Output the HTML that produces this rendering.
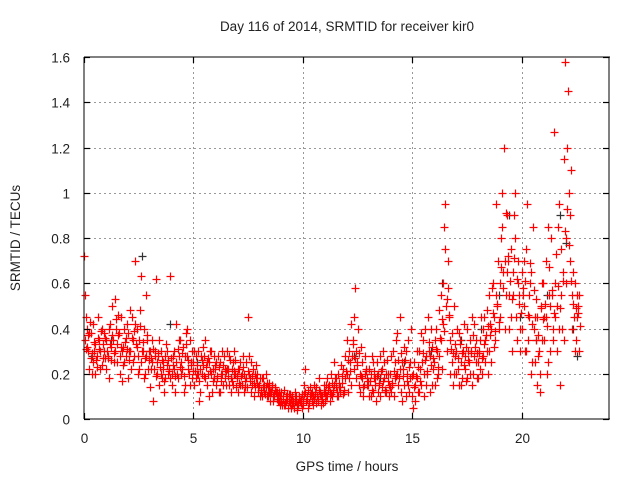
<!DOCTYPE html>
<html><head><meta charset="utf-8"><style>
body{margin:0;background:#fff}
svg{display:block;font-family:"Liberation Sans",sans-serif}
</style></head><body>
<svg id="chart" width="640" height="480" viewBox="0 0 640 480">
<rect width="640" height="480" fill="#fff"/>
<text x="347" y="31" font-size="13.5" text-anchor="middle" fill="#222">Day 116 of 2014, SRMTID for receiver kir0</text>
<text x="20" y="238" font-size="13.5" text-anchor="middle" fill="#222" transform="rotate(-90 20 238)">SRMTID / TECUs</text>
<text x="347" y="471" font-size="13.5" text-anchor="middle" fill="#222">GPS time / hours</text>
<g id="grid"></g>
<g id="blk"></g>
<g id="red"></g>
<g stroke="#000" stroke-width="1.2" shape-rendering="crispEdges">
<line x1="84" y1="57" x2="610" y2="57"/>
<line x1="84" y1="419" x2="610" y2="419"/>
<line x1="84" y1="57" x2="84" y2="419"/>
<line x1="609" y1="57" x2="609" y2="419"/>
</g>
<g id="ticks"></g>
</svg>
<script>
const xTicks=[0,5,10,15,20];
const yTicks=[0,0.2,0.4,0.6,0.8,1,1.2,1.4,1.6];
const yTickLabels=["0","0.2","0.4","0.6","0.8","1","1.2","1.4","1.6"];
const times=[0,0.1,0.2,0.3,0.4,0.5,0.6,0.7,0.8,0.9,1,1.1,1.2,1.3,1.4,1.5,1.6,1.7,1.8,1.9,2,2.1,2.2,2.3,2.4,2.5,2.6,2.7,2.8,2.9,3,3.1,3.2,3.3,3.4,3.5,3.6,3.7,3.8,3.9,4,4.1,4.2,4.3,4.4,4.5,4.6,4.7,4.8,4.9,5,5.1,5.2,5.3,5.4,5.5,5.6,5.7,5.8,5.9,6,6.1,6.2,6.3,6.4,6.5,6.6,6.7,6.8,6.9,7,7.1,7.2,7.3,7.4,7.5,7.6,7.7,7.8,7.9,8,8.1,8.2,8.3,8.4,8.5,8.6,8.7,8.8,8.9,9,9.1,9.2,9.3,9.4,9.5,9.6,9.7,9.8,9.9,10,10.1,10.2,10.3,10.4,10.5,10.6,10.7,10.8,10.9,11,11.1,11.2,11.3,11.4,11.5,11.6,11.7,11.8,11.9,12,12.1,12.2,12.3,12.4,12.5,12.6,12.7,12.8,12.9,13,13.1,13.2,13.3,13.4,13.5,13.6,13.7,13.8,13.9,14,14.1,14.2,14.3,14.4,14.5,14.6,14.7,14.8,14.9,15,15.1,15.2,15.3,15.4,15.5,15.6,15.7,15.8,15.9,16,16.1,16.2,16.3,16.4,16.5,16.6,16.7,16.8,16.9,17,17.1,17.2,17.3,17.4,17.5,17.6,17.7,17.8,17.9,18,18.1,18.2,18.3,18.4,18.5,18.6,18.7,18.8,18.9,19,19.1,19.2,19.3,19.4,19.5,19.6,19.7,19.8,19.9,20,20.1,20.2,20.3,20.4,20.5,20.6,20.7,20.8,20.9,21,21.1,21.2,21.3,21.4,21.5,21.6,21.7,21.8,21.9,22,22.1,22.2,22.3,22.4,22.5,22.6];
const valuesA=[.72,.45,.30,.38,.25,.33,.28,.35,.40,.30, .35,.28,.42,.50,.30,.25,.38,.45,.32,.28, .38,.30,.45,.28,.40,.35,.25,.30,.20,.35, .30,.25,.22,.62,.28,.20,.25,.18,.30,.22, .20,.30,.25,.18,.35,.22,.28,.40,.20,.25, .25,.18,.30,.22,.20,.28,.15,.25,.30,.22, .22,.18,.25,.20,.28,.15,.22,.18,.25,.20, .18,.22,.15,.20,.25,.45,.18,.15,.20,.16, .15,.12,.18,.14,.10,.12,.15,.10,.12,.08, .08,.10,.06,.09,.07,.10,.05,.08,.06,.09, .08,.22,.10,.07,.12,.09,.14,.08,.12,.10, .12,.10,.15,.20,.12,.18,.10,.14,.16,.12, .20,.30,.15,.35,.58,.25,.20,.18,.15,.22, .15,.20,.12,.18,.25,.15,.22,.18,.12,.20, .20,.15,.25,.38,.18,.12,.22,.30,.15,.25, .10,.25,.18,.30,.15,.35,.40,.20,.28,.15, .25,.40,.20,.35,.60,.95,.30,.45,.25,.20, .30,.22,.35,.18,.28,.40,.25,.30,.20,.35, .25,.35,.20,.45,.30,.55,.40,.60,.35,.50, .60,.85,1.2,.55,.70,.45,.65,.80,.35,.55, .65,.50,.75,.35,.60,.25,.45,.15,.30,.50, .60,.45,.85,.30,.55,1.27,.50,.40,.75,.65, 1.58,1.2,.90,.55,.45,.35,.50];
const valuesB=[.55,.32,.22,.27,.42,.20,.36,.30,.24,.38, .22,.40,.26,.35,.53,.33,.20,.30,.40,.36, .18,.48,.25,.70,.32,.22,.63,.40,.28,.22, .14,.35,.28,.20,.15,.30,.22,.28,.20,.63, .15,.22,.42,.28,.20,.32,.15,.28,.35,.18, .15,.28,.20,.12,.32,.18,.25,.10,.20,.28, .15,.28,.12,.30,.18,.22,.28,.12,.15,.26, .12,.25,.20,.12,.18,.28,.12,.22,.14,.20, .10,.18,.12,.20,.14,.08,.10,.13,.09,.12, .12,.06,.10,.05,.11,.06,.09,.04,.10,.07, .06,.12,.05,.14,.08,.15,.07,.18,.10,.07, .08,.18,.12,.10,.25,.14,.20,.12,.22,.18, .35,.18,.42,.22,.30,.40,.12,.25,.20,.15, .22,.10,.25,.15,.12,.28,.14,.25,.20,.15, .12,.30,.18,.20,.45,.25,.15,.10,.35,.18, .05,.15,.30,.12,.38,.20,.15,.45,.12,.32, .15,.30,.48,.55,.42,.75,.58,.20,.38,.50, .20,.38,.15,.30,.22,.18,.35,.15,.42,.25, .18,.22,.40,.25,.48,.30,.25,.45,.95,.70, .45,1.0,.70,.90,.40,.75,.55,1.0,.60,.40, .40,.70,.30,.55,.20,.85,.25,.45,.20,.60, .35,.70,.25,.50,.40,.60,.30,.95,.55,.35, .80,1.45,.70,.40,.60,.55,.30];
const valuesC=[.35,.40,.38,.20,.30,.26,.45,.22,.33,.27, .30,.18,.32,.25,.40,.46,.28,.17,.25,.42, .30,.22,.35,.42,.20,.48,.30,.18,.55,.30, .22,.08,.30,.25,.35,.18,.12,.33,.26,.18, .28,.12,.20,.35,.25,.12,.38,.22,.15,.30, .30,.20,.08,.28,.24,.35,.20,.30,.12,.18, .25,.12,.20,.15,.22,.30,.15,.22,.30,.14, .22,.15,.28,.17,.14,.20,.25,.10,.24,.12, .18,.10,.15,.10,.16,.12,.08,.14,.10,.06, .06,.13,.08,.11,.05,.08,.12,.06,.09,.05, .15,.08,.13,.10,.06,.11,.10,.13,.06,.15, .15,.13,.08,.16,.15,.10,.16,.24,.11,.28, .12,.25,.28,.45,.18,.15,.32,.10,.28,.18, .10,.28,.18,.08,.20,.10,.30,.12,.26,.10, .28,.10,.35,.15,.22,.08,.32,.20,.12,.40, .20,.08,.12,.22,.25,.10,.28,.30,.40,.22, .35,.18,.28,.22,.85,.50,.70,.35,.15,.28, .40,.15,.25,.42,.17,.30,.20,.45,.28,.18, .30,.45,.28,.35,.20,.42,.58,.32,.55,.40, .80,.65,.40,.65,.55,.30,.90,.45,.70,.30, .55,.30,.95,.45,.65,.40,.35,.28,.12,.35, .45,.20,.55,.80,.35,.45,.85,.15,.40,1.15, .60,1.0,1.1,.65,.30,.45,.55];
const valuesD=[.31,.37,.43,.29,.34,.23,.31,.39,.27,.36, .27,.33,.37,.29,.44,.37,.32,.24,.34,.31, .26,.36,.39,.33,.28,.41,.34,.27,.37,.26, .27,.31,.19,.29,.23,.26,.17,.24,.21,.27, .24,.19,.31,.23,.29,.19,.33,.26,.24,.21, .21,.24,.17,.26,.19,.23,.27,.21,.17,.24, .19,.23,.17,.24,.21,.19,.26,.17,.21,.19, .16,.19,.23,.14,.21,.17,.19,.16,.18,.14, .13,.14,.11,.16,.12,.14,.11,.12,.08,.10, .09,.07,.11,.08,.09,.07,.10,.07,.08,.11, .11,.09,.07,.11,.10,.12,.09,.11,.09,.12, .10,.14,.11,.13,.18,.12,.14,.19,.13,.21, .26,.21,.33,.27,.24,.29,.19,.14,.21,.17, .17,.13,.21,.19,.16,.21,.17,.13,.17,.14, .16,.21,.19,.26,.29,.19,.26,.17,.23,.19, .14,.19,.23,.17,.29,.26,.21,.34,.24,.27, .31,.23,.36,.44,.39,.53,.46,.31,.29,.33, .27,.33,.29,.24,.32,.26,.29,.37,.32,.29, .29,.27,.33,.37,.41,.37,.47,.39,.51,.43, .67,.58,.91,.72,.61,.53,.71,.62,.51,.47, .58,.61,.46,.69,.42,.57,.53,.37,.49,.44, .51,.41,.67,.57,.47,.73,.59,.49,.61,.83, .93,.77,.61,.51,.49,.47,.41];
const blackTimes=[0.3,1.2,2.6,3.9,5.1,6.8,8.4,9.6,10.9,12.3,13.5,14.6,15.8,16.3,17.2,18.1,18.9,19.4,19.9,20.6,21.1,21.7,22.0,22.3,22.5];
const blackValues=[.28,.35,.72,.42,.25,.20,.14,.08,.12,.28,.18,.25,.30,.60,.35,.40,.55,.90,.45,.35,.55,.90,.78,.40,.28];

const NS="http://www.w3.org/2000/svg";
const X0=84,X1=609,Y0=419,Y1=57,XMAX=24,YMAX=1.6;
function sx(t){return X0+(X1-X0)*t/XMAX;}
function sy(v){return Y0-(Y0-Y1)*v/YMAX;}
function mk(tag,attrs,parent){const e=document.createElementNS(NS,tag);for(const k in attrs)e.setAttribute(k,attrs[k]);parent.appendChild(e);return e;}
const grid=document.getElementById('grid'),ticks=document.getElementById('ticks');
xTicks.forEach((t,i)=>{
  const x=Math.round(sx(t))+0.5;
  if(t>0){const g=mk('line',{x1:x,x2:x,y1:Y0,y2:Y1,stroke:'#999','stroke-dasharray':'2,3','stroke-width':1},grid);
  
  }
  const a=mk('line',{x1:x,x2:x,y1:Y0,y2:Y0-6,stroke:'#000','stroke-width':1.2},ticks);
  
  
  const b=mk('line',{x1:x,x2:x,y1:Y1,y2:Y1+6,stroke:'#000','stroke-width':1.2},ticks);
  
  
  const l=mk('text',{x:x,y:443,'font-size':13.5,'text-anchor':'middle',fill:'#222'},ticks);
  l.textContent=String(t);
  
  
});
yTicks.forEach((v,i)=>{
  const y=Math.round(sy(v))+0.5;
  if(v>0&&v<YMAX){const g=mk('line',{x1:X0,x2:X1,y1:y,y2:y,stroke:'#999','stroke-dasharray':'2,3','stroke-width':1},grid);
  
  }
  const a=mk('line',{x1:X0,x2:X0+6,y1:y,y2:y,stroke:'#000','stroke-width':1.2},ticks);
  
  
  const b=mk('line',{x1:X1,x2:X1-6,y1:y,y2:y,stroke:'#000','stroke-width':1.2},ticks);
  
  
  const l=mk('text',{x:70,y:y+5,'font-size':13.5,'text-anchor':'end',fill:'#222'},ticks);
  l.textContent=yTickLabels[i];
  
  
});
function plus(parent,t,v,color){
  const x=Math.round(sx(t))+0.5,y=Math.round(sy(v))+0.5;
  const p=mk('path',{d:`M${x-4},${y}H${x+4}M${x},${y-4}V${y+4}`,stroke:color,'stroke-width':1.2,fill:'none'},parent);
  
  
}
const blk=document.getElementById('blk'),red=document.getElementById('red');
blackTimes.forEach((t,i)=>plus(blk,t+0.05,blackValues[i],'#333'));
times.forEach((t,i)=>{
  plus(red,t,valuesA[i],'#ff0000');
  plus(red,t+0.025,valuesB[i],'#ff0000');
  plus(red,t+0.05,valuesC[i],'#ff0000');
  plus(red,t+0.075,valuesD[i],'#ff0000');
});
</script>
</body></html>
